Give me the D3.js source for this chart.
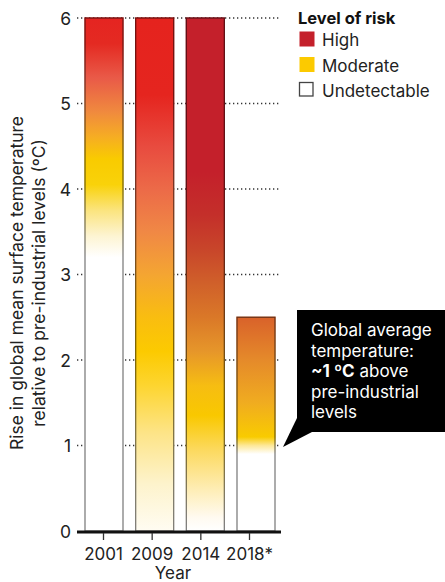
<!DOCTYPE html>
<html>
<head>
<meta charset="utf-8">
<script src="https://cdn.jsdelivr.net/npm/d3@7"></script>
<style>
  html, body { margin: 0; padding: 0; background: #fff; }
  svg { display: block; font-family: Inter, Roboto, "Noto Sans", sans-serif; }
</style>
</head>
<body>
<div id="chart"></div>
<script>
// Chart data
var years = ["2001", "2009", "2014", "2018*"];
var topValues = [6, 6, 6, 2.5];
var yTicks = [0, 1, 2, 3, 4, 5, 6];

// colour stops along each bar, as [temperature, colour]
var stops2001 = [[0, "#ffffff"], [3.2, "#ffffff"], [3.45, "#fdf4d2"], [3.75, "#fbe47e"],
                 [4.05, "#f9d20a"], [4.35, "#f9cb00"], [4.6, "#f6ae22"], [4.9, "#f08a3e"],
                 [5.3, "#e95a48"], [5.7, "#e42a22"], [6, "#e52421"]];
var stops2009 = [[0, "#fffcf2"], [0.55, "#fdf3cc"], [1.15, "#fde487"], [1.7, "#fdd530"],
                 [2.1, "#fcca00"], [2.5, "#f9bd10"], [3.0, "#f4a532"], [3.5, "#f08845"],
                 [4.0, "#ec6a48"], [4.5, "#e84b3f"], [5.1, "#e5251f"], [6, "#e5231e"]];
var stops2014 = [[0, "#ffffff"], [0.16, "#fffaf0"], [0.47, "#feeeb8"], [0.95, "#fcd95e"],
                 [1.35, "#f9c800"], [1.7, "#f6bd12"], [2.1, "#e6962a"], [2.5, "#da7828"],
                 [2.9, "#d0602a"], [3.3, "#c8452a"], [3.7, "#c42f2a"], [4.2, "#c4202b"],
                 [6, "#c4202b"]];
var stops2018 = [[0, "#ffffff"], [0.9, "#ffffff"], [1.0, "#fde898"], [1.1, "#f9cb00"],
                 [1.5, "#f0ac20"], [2.0, "#e58a2a"], [2.5, "#d9622a"]];
var barStops = [stops2001, stops2009, stops2014, stops2018];

var riskLevels = ["High", "Moderate", "Undetectable"];
var riskColors = ["#c4202b", "#fcca00", "#ffffff"];

var calloutLines = [
  [["Global average", false]],
  [["temperature:", false]],
  [["~1 \u00baC", true], [" above", false]],
  [["pre-industrial", false]],
  [["levels", false]]
];

var W = 445, H = 582;

var svg = d3.select("#chart").append("svg")
    .attr("width", W)
    .attr("height", H);

var y = d3.scaleLinear().domain([0, 6]).range([531, 18]);
var x = d3.scaleBand().domain(years).range([85, 275]).paddingInner(0.25).paddingOuter(0);
// axis ticks sit slightly off the bar centres in the original
var xTick = d3.scalePoint().domain(years).range([103, 249]);

// Gradients
var defs = svg.append("defs");
barStops.forEach(function(stops, i){
  var g = defs.append("linearGradient")
      .attr("id", "grad" + i)
      .attr("gradientUnits", "userSpaceOnUse")
      .attr("x1", 0).attr("x2", 0)
      .attr("y1", y(0)).attr("y2", y(6));
  g.selectAll("stop")
    .data(stops)
    .enter()
    .append("stop")
    .attr("offset", function(d){ return d[0] / 6; })
    .attr("stop-color", function(d){ return d[1]; });
});

// Dotted gridlines
svg.append("g")
  .selectAll("line")
  .data(yTicks.filter(function(d){ return d > 0; }))
  .enter()
  .append("line")
  .attr("x1", 77).attr("x2", 281)
  .attr("y1", function(d){ return y(d); })
  .attr("y2", function(d){ return y(d); })
  .attr("stroke", "#333")
  .attr("stroke-width", 1.3)
  .attr("stroke-dasharray", "1.3,2.7");

// Bars
var bars = svg.append("g")
  .selectAll("g")
  .data(years)
  .enter()
  .append("g");

bars.append("rect")
  .attr("x", function(d){ return x(d); })
  .attr("y", function(d, i){ return y(topValues[i]); })
  .attr("width", x.bandwidth())
  .attr("height", function(d, i){ return y(0) - y(topValues[i]); })
  .attr("fill", function(d, i){ return "url(#grad" + i + ")"; })
  .attr("stroke", function(d, i){ return "url(#grad" + i + ")"; })
  .attr("stroke-width", 1.3);

bars.append("rect")
  .attr("x", function(d){ return x(d); })
  .attr("y", function(d, i){ return y(topValues[i]); })
  .attr("width", x.bandwidth())
  .attr("height", function(d, i){ return y(0) - y(topValues[i]); })
  .attr("fill", "none")
  .attr("stroke", "rgba(0,0,0,0.5)")
  .attr("stroke-width", 1.3);

// Y axis labels
svg.append("g")
  .selectAll("text")
  .data(yTicks)
  .enter()
  .append("text")
  .attr("x", 71)
  .attr("y", function(d){ return y(d) + 6.5; })
  .attr("text-anchor", "end")
  .attr("font-size", 17.5)
  .attr("fill", "#222")
  .text(function(d){ return d; });

// X axis
svg.append("line")
  .attr("x1", 77).attr("x2", 281)
  .attr("y1", y(0) + 1).attr("y2", y(0) + 1)
  .attr("stroke", "#111")
  .attr("stroke-width", 3);

var xAxis = svg.append("g")
  .attr("transform", "translate(0," + (y(0) + 2) + ")")
  .call(d3.axisBottom(xTick).tickSize(7).tickPadding(8));
xAxis.select(".domain").remove();
xAxis.selectAll(".tick line").attr("stroke", "#333").attr("stroke-width", 1.3);
xAxis.selectAll(".tick text")
  .attr("font-size", 17)
  .attr("font-family", "Inter, Roboto, 'Noto Sans', sans-serif")
  .attr("fill", "#222");

svg.append("text")
  .attr("x", 173).attr("y", 579)
  .attr("text-anchor", "middle")
  .attr("font-size", 17)
  .attr("fill", "#222")
  .text("Year");

// Y axis title
var yTitle = svg.append("text")
  .attr("transform", "translate(23,283) rotate(-90)")
  .attr("text-anchor", "middle")
  .attr("font-size", 17.5)
  .attr("fill", "#222");
yTitle.append("tspan").attr("x", 0).attr("dy", 0)
  .text("Rise in global mean surface temperature");
yTitle.append("tspan").attr("x", 0).attr("dy", 22)
  .text("relative to pre-industrial levels (\u00baC)");

// Legend
var legend = svg.append("g").attr("transform", "translate(298,0)");
legend.append("text")
  .attr("x", 0).attr("y", 24)
  .attr("font-size", 16.5)
  .attr("font-weight", "bold")
  .attr("fill", "#111")
  .text("Level of risk");

var items = legend.selectAll(".item")
  .data(riskLevels)
  .enter()
  .append("g")
  .attr("class", "item")
  .attr("transform", function(d, i){ return "translate(0," + (31 + i * 25.5) + ")"; });

items.append("rect")
  .attr("x", 1.5).attr("y", 0.5)
  .attr("width", function(d, i){ return i === 2 ? 13.5 : 15; })
  .attr("height", function(d, i){ return i === 2 ? 13.5 : 15; })
  .attr("fill", function(d, i){ return riskColors[i]; })
  .attr("stroke", function(d, i){ return i === 2 ? "#444" : "none"; })
  .attr("stroke-width", 1.3);

items.append("text")
  .attr("x", 24).attr("y", 15)
  .attr("font-size", 17)
  .attr("fill", "#222")
  .text(function(d){ return d; });

// Callout
var callout = svg.append("g");
callout.append("rect")
  .attr("x", 297).attr("y", 310)
  .attr("width", W - 297).attr("height", 122)
  .attr("fill", "#000");
callout.append("path")
  .attr("d", "M297,418 L312,432 L283,447 Z")
  .attr("fill", "#000");

var ct = callout.append("text")
  .attr("font-size", 17)
  .attr("fill", "#fff");
calloutLines.forEach(function(line, i){
  var t = ct.append("tspan").attr("x", 311).attr("y", 336 + i * 20.6);
  line.forEach(function(part, j){
    var s = j === 0 ? t : ct.append("tspan");
    s.attr("font-weight", part[1] ? "bold" : null).text(part[0]);
  });
});
</script>
</body>
</html>
